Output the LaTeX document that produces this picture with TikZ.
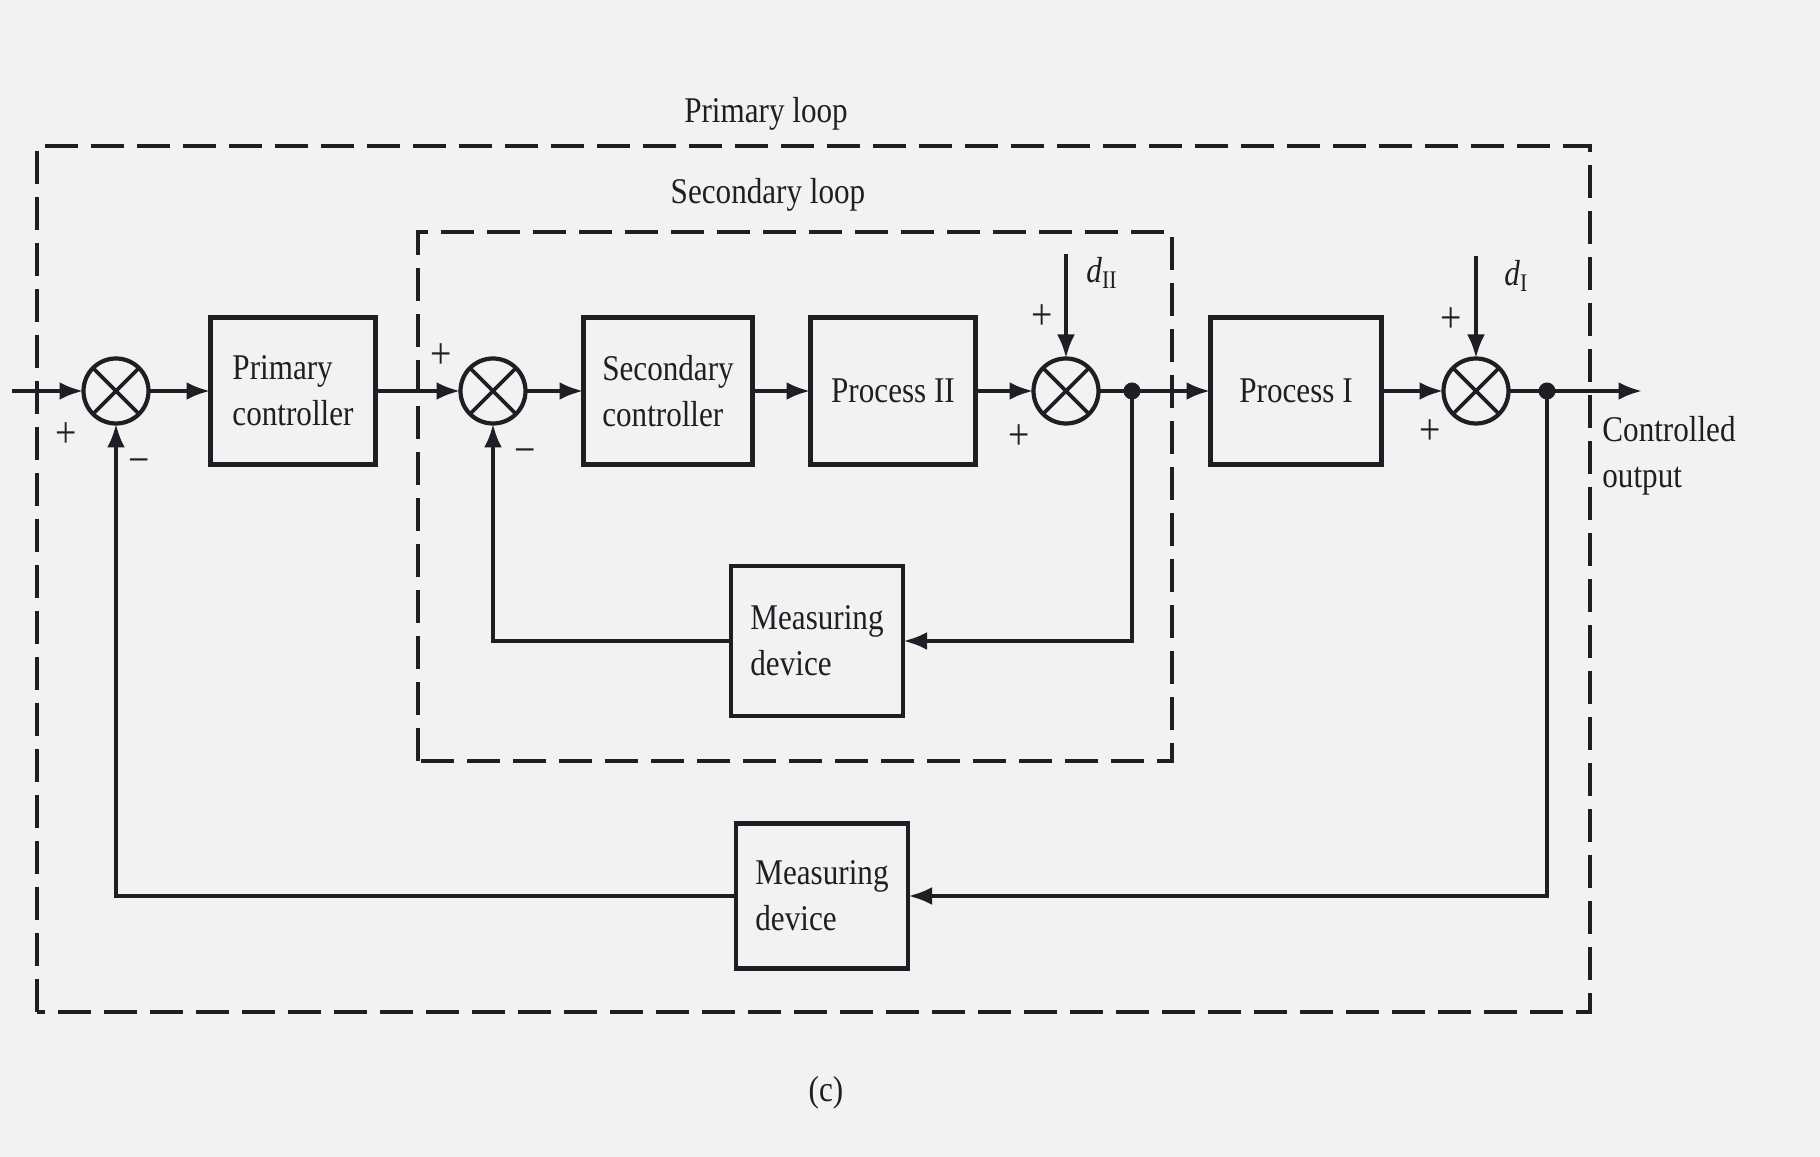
\documentclass[tikz,border=0pt]{standalone}
\usepackage{fontspec}
\setmainfont{Liberation Serif}[FakeStretch=0.86]
\usetikzlibrary{arrows.meta, positioning}
\definecolor{Ink}{HTML}{1E1E24}
\definecolor{Paper}{HTML}{F3F1F1}
\tikzset{
  block/.style={draw=Ink, line width=1.4pt, align=left, minimum width=1.68cm, minimum height=1.47cm, inner sep=3pt, outer sep=0pt, font=\fontsize{10.3}{13}\selectfont},
  summer/.style={draw=Ink, line width=1.2pt, circle, minimum size=6.5mm, inner sep=0pt, outer sep=0pt, path picture={\draw[Ink, line width=1.1pt] (path picture bounding box.south west) -- (path picture bounding box.north east) (path picture bounding box.north west) -- (path picture bounding box.south east);}},
  tap/.style={circle, fill=Ink, minimum size=1.7mm, inner sep=0pt, outer sep=0pt},
  loopbox/.style={draw=Ink, line width=1.1pt, dash pattern=on 3.3mm off 1.3mm},
  sign/.style={font=\fontsize{12.5}{14}\selectfont, text=Ink, inner sep=1pt},
  arrow/.style={-{Latex[length=2.4mm, width=1.8mm]}, line width=1.3pt, draw=Ink}
}

\begin{document}
\begin{tikzpicture}[node distance=0.6cm, text=Ink, font=\fontsize{10.3}{13}\selectfont]
\fill[Paper] (0,0) rectangle (18.2,11.57);
\useasboundingbox (0,0) rectangle (18.2,11.57);

% loop frames
\draw[loopbox] (0.37,1.45) rectangle (15.90,10.11);
\draw[loopbox] (4.18,3.96) rectangle (11.72,9.25);
\node (plooplbl) at (7.66,10.43) {Primary loop};
\node (slooplbl) at (7.68,9.62) {Secondary loop};

% forward path
\coordinate (in) at (0.12,7.66);
\node[summer] (cmp1) at (1.16,7.66) {};
\node[block, minimum width=1.65cm, right=0.62cm of cmp1] (pctrl) {Primary\\controller};
\node[summer, right=0.85cm of pctrl] (cmp2) {};
\node[block, minimum width=1.69cm, right=0.58cm of cmp2] (sctrl) {Secondary\\controller};
\node[block, minimum width=1.65cm, right=0.58cm of sctrl] (proc2) {Process II};
\node[summer, right=0.58cm of proc2] (add2) {};
\node[tap, right=0.25cm of add2] (tap2) {};
\node[block, minimum width=1.71cm, right=1.12cm of add2] (proc1) {Process I};
\node[summer, right=0.62cm of proc1] (add1) {};
\node[tap, right=0.3cm of add1] (tap1) {};
\coordinate[right=0.87cm of tap1] (out);
\node[align=left, anchor=west] (outlbl) at (15.9,7.01) {Controlled\\output};

% disturbances
\coordinate[above=1.04cm of add2] (d2in);
\coordinate[above=1.02cm of add1] (d1in);
\node[anchor=west] (d2lbl) at (10.74,8.84) {\textit{d}\textsubscript{II}};
\node[anchor=west] (d1lbl) at (14.92,8.81) {\textit{d}\textsubscript{I}};

% feedback blocks
\node[block, minimum width=1.72cm, minimum height=1.5cm] (meas2) at (8.17,5.16) {Measuring\\device};
\node[block, minimum width=1.72cm, minimum height=1.45cm] (meas1) at (8.22,2.61) {Measuring\\device};

% signs
\node[sign] (s1a) at (0.66,7.22) {+};
\node[sign] (s1b) at (1.39,6.90) {−};
\node[sign] (s2a) at (4.41,8.01) {+};
\node[sign] (s2b) at (5.25,7.00) {−};
\node[sign] (s3a) at (10.42,8.40) {+};
\node[sign] (s3b) at (10.19,7.20) {+};
\node[sign] (s4a) at (14.51,8.37) {+};
\node[sign] (s4b) at (14.30,7.25) {+};

\node (cap) at (8.26,0.64) {(c)};

\draw[arrow] (in) -- (cmp1);
\draw[arrow] (cmp1) -- (pctrl);
\draw[arrow] (pctrl) -- (cmp2);
\draw[arrow] (cmp2) -- (sctrl);
\draw[arrow] (sctrl) -- (proc2);
\draw[arrow] (proc2) -- (add2);
\draw[arrow] (d2in) -- (add2);
\draw[arrow] (add2) -- (proc1);
\draw[arrow] (proc1) -- (add1);
\draw[arrow] (d1in) -- (add1);
\draw[arrow] (add1) -- (out);
\draw[arrow] (tap2) |- (meas2);
\draw[arrow] (meas2) -| (cmp2);
\draw[arrow] (tap1) |- (meas1);
\draw[arrow] (meas1) -| (cmp1);
\end{tikzpicture}
\end{document}
